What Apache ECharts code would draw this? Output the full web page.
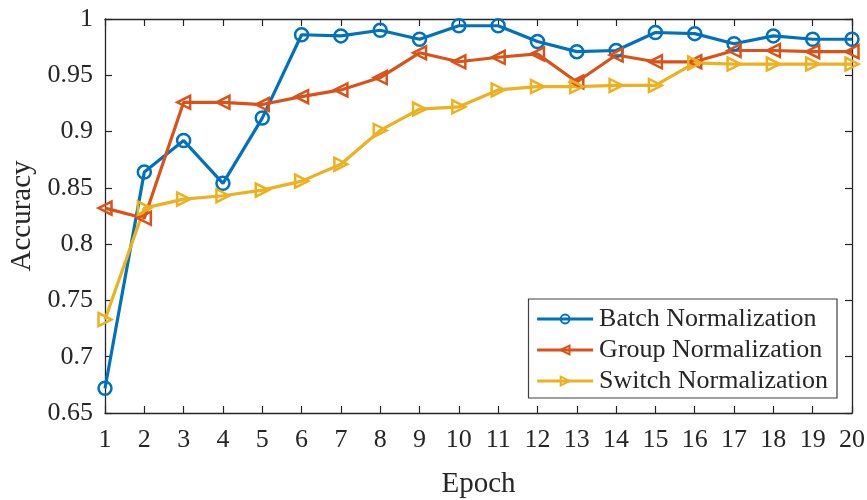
<!DOCTYPE html>
<html>
<head>
<meta charset="utf-8">
<script src="https://cdn.jsdelivr.net/npm/echarts@6/dist/echarts.min.js"></script>
<style>
  html, body { margin: 0; padding: 0; background: #fff; }
  #main { width: 867px; height: 500px; }
</style>
</head>
<body>
<div id="main"></div>
<script>
var epochs = ['1','2','3','4','5','6','7','8','9','10','11','12','13','14','15','16','17','18','19','20'];
var batchNorm = [0.672, 0.864, 0.892, 0.854, 0.912, 0.986, 0.985, 0.990, 0.982, 0.994, 0.994, 0.980, 0.971, 0.972, 0.988, 0.987, 0.978, 0.985, 0.982, 0.982];
var groupNorm = [0.832, 0.823, 0.926, 0.926, 0.924, 0.931, 0.937, 0.948, 0.970, 0.962, 0.966, 0.969, 0.944, 0.968, 0.962, 0.962, 0.972, 0.972, 0.971, 0.971];
var switchNorm = [0.733, 0.832, 0.840, 0.843, 0.848, 0.856, 0.871, 0.901, 0.920, 0.922, 0.937, 0.940, 0.940, 0.941, 0.941, 0.961, 0.960, 0.960, 0.960, 0.960];

var font = 'Liberation Serif';
var chart = echarts.init(document.getElementById('main'));

function makeSeries(name, data, color, symbol, rotate) {
  return {
    name: name,
    type: 'line',
    data: data,
    symbol: symbol,
    symbolSize: 13,
    symbolRotate: rotate,
    showAllSymbol: true,
    lineStyle: { color: color, width: 3.2 },
    itemStyle: { color: 'rgba(255,255,255,0)', borderColor: color, borderWidth: 2.5 },
    emphasis: { disabled: true }
  };
}

var axisLine = { show: true, lineStyle: { color: '#262626', width: 1.3 } };
var axisTick = { show: true, inside: true, length: 7, lineStyle: { color: '#262626', width: 1.2 } };

var option = {
  backgroundColor: '#ffffff',
  animation: false,
  grid: { left: 105, right: 15, top: 19, bottom: 87, outerBoundsMode: 'none', containLabel: false },
  legend: {
    orient: 'vertical',
    right: 30,
    bottom: 102,
    itemWidth: 56,
    itemHeight: 11,
    itemGap: 5,
    padding: [7, 9, 4, 7],
    backgroundColor: '#fff',
    borderColor: '#404040',
    borderWidth: 1.2,
    borderRadius: 0,
    lineStyle: { width: 3.2 },
    textStyle: { fontFamily: font, fontSize: 26, color: '#262626', padding: [0, 0, 0, 1] },
    data: ['Batch Normalization', 'Group Normalization', 'Switch Normalization']
  },
  xAxis: [{
    type: 'category',
    data: epochs,
    boundaryGap: false,
    name: 'Epoch',
    nameLocation: 'middle',
    nameGap: 57,
    nameTextStyle: { fontFamily: font, fontSize: 29, color: '#262626' },
    axisLine: axisLine,
    axisTick: axisTick,
    axisLabel: { fontFamily: font, fontSize: 26, color: '#262626', margin: 14, interval: 0 },
    splitLine: { show: false }
  }, {
    type: 'category',
    data: epochs,
    boundaryGap: false,
    position: 'top',
    axisLine: axisLine,
    axisTick: axisTick,
    axisLabel: { show: false },
    splitLine: { show: false }
  }],
  yAxis: [{
    type: 'value',
    min: 0.65,
    max: 1,
    interval: 0.05,
    name: 'Accuracy',
    nameLocation: 'middle',
    nameGap: 68,
    nameTextStyle: { fontFamily: font, fontSize: 29, color: '#262626' },
    axisLine: axisLine,
    axisTick: axisTick,
    axisLabel: {
      fontFamily: font, fontSize: 26, color: '#262626', margin: 12,
      formatter: function (v) { return String(+v.toFixed(2)); }
    },
    splitLine: { show: false }
  }, {
    type: 'value',
    min: 0.65,
    max: 1,
    interval: 0.05,
    position: 'right',
    axisLine: axisLine,
    axisTick: axisTick,
    axisLabel: { show: false },
    splitLine: { show: false }
  }],
  series: [
    makeSeries('Batch Normalization', batchNorm, '#0072BD', 'circle', 0),
    makeSeries('Group Normalization', groupNorm, '#D95319', 'triangle', 90),
    makeSeries('Switch Normalization', switchNorm, '#EDB120', 'triangle', -90)
  ]
};

chart.setOption(option);
</script>
</body>
</html>
